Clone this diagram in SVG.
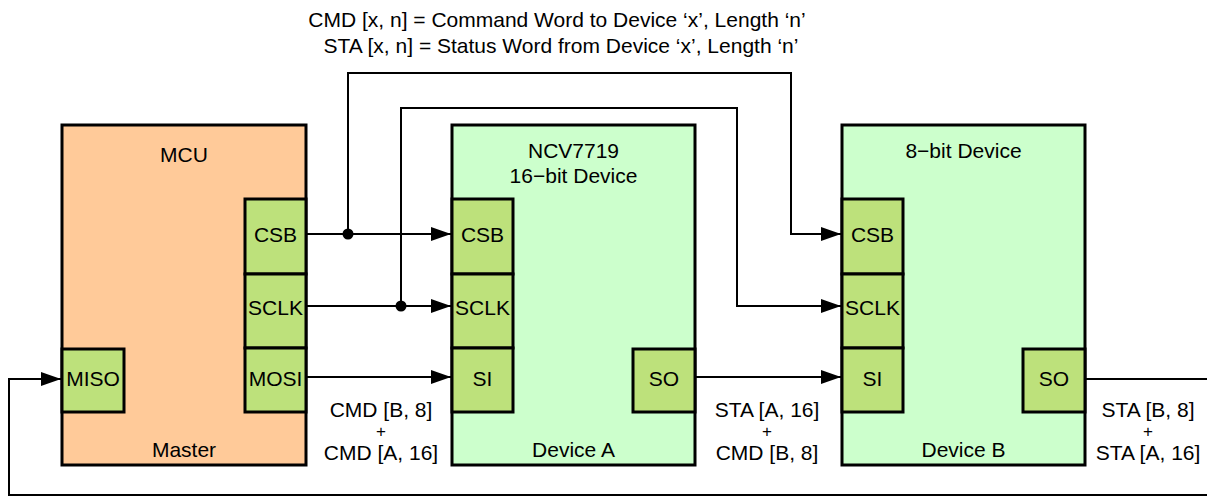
<svg xmlns="http://www.w3.org/2000/svg" width="1207" height="497" viewBox="0 0 1207 497">
<style>
text{font-family:"Liberation Sans",Arial,Helvetica,sans-serif;font-size:21px;fill:#000;text-anchor:middle}
text.plus{font-size:17px}
.box{stroke:#000;stroke-width:3}
.mcu{fill:#ffca99}
.dev{fill:#ccffcc}
.pin{fill:#bde17b;stroke:#000;stroke-width:3}
.w{fill:none;stroke:#000;stroke-width:2}
</style>
<defs>
<marker id="arr" markerUnits="userSpaceOnUse" markerWidth="20" markerHeight="14" refX="20" refY="7" orient="auto" viewBox="0 0 20 14">
<path d="M0,0 L20,7 L0,14 z" fill="#000"/>
</marker>
</defs>
<rect width="1207" height="497" fill="#fff"/>
<g id="legend">
<text x="557" y="27">CMD [x, n] = Command Word to Device ‘x’, Length ‘n’</text>
<text x="561" y="53">STA [x, n] = Status Word from Device ‘x’, Length ‘n’</text>
</g>
<g id="mcu">
<rect class="box mcu" x="62" y="125" width="244" height="340"/>
<text x="184" y="162">MCU</text>
<text x="184" y="457">Master</text>
<rect class="pin" x="245" y="199" width="61" height="75"/>
<text x="275.5" y="242">CSB</text>
<rect class="pin" x="245" y="274" width="61" height="74"/>
<text x="275.5" y="315">SCLK</text>
<rect class="pin" x="245" y="348" width="61" height="64"/>
<text x="275.5" y="386">MOSI</text>
<rect class="pin" x="62" y="349" width="62" height="63"/>
<text x="93" y="386">MISO</text>
</g>
<g id="deviceA">
<rect class="box dev" x="452" y="125" width="243" height="340"/>
<text x="573.5" y="158">NCV7719</text>
<text x="573.5" y="183">16−bit Device</text>
<text x="573.5" y="457">Device A</text>
<rect class="pin" x="452" y="199" width="61" height="75"/>
<text x="482.5" y="242">CSB</text>
<rect class="pin" x="452" y="274" width="61" height="74"/>
<text x="482.5" y="315">SCLK</text>
<rect class="pin" x="452" y="348" width="61" height="64"/>
<text x="482.5" y="386">SI</text>
<rect class="pin" x="633" y="349" width="62" height="63"/>
<text x="664" y="386">SO</text>
</g>
<g id="deviceB">
<rect class="box dev" x="842" y="125" width="243" height="340"/>
<text x="963.5" y="158">8−bit Device</text>
<text x="963.5" y="457">Device B</text>
<rect class="pin" x="842" y="199" width="61" height="75"/>
<text x="872.5" y="242">CSB</text>
<rect class="pin" x="842" y="274" width="61" height="74"/>
<text x="872.5" y="315">SCLK</text>
<rect class="pin" x="842" y="348" width="61" height="64"/>
<text x="872.5" y="386">SI</text>
<rect class="pin" x="1023" y="349" width="62" height="63"/>
<text x="1054" y="386">SO</text>
</g>
<g id="connectors">
<path class="w" d="M306,234 H451" marker-end="url(#arr)"/>
<path class="w" d="M348,234 V73 H791 V234 H841" marker-end="url(#arr)"/>
<circle cx="348" cy="234" r="5.5" fill="#000"/>
<path class="w" d="M306,306 H451" marker-end="url(#arr)"/>
<path class="w" d="M401,306 V108 H737 V306 H841" marker-end="url(#arr)"/>
<circle cx="401" cy="306" r="5.5" fill="#000"/>
<path class="w" d="M306,377 H451" marker-end="url(#arr)"/>
<path class="w" d="M695,377 H841" marker-end="url(#arr)"/>
<path class="w" d="M1085,379 H1207"/>
<path class="w" d="M1207,495 H9 V379 H61" marker-end="url(#arr)"/>
</g>
<g id="labels">
<text x="381" y="417">CMD [B, 8]</text>
<text class="plus" x="381" y="437">+</text>
<text x="381" y="460">CMD [A, 16]</text>
<text x="767" y="417">STA [A, 16]</text>
<text class="plus" x="767" y="437">+</text>
<text x="767" y="460">CMD [B, 8]</text>
<text x="1148" y="417">STA [B, 8]</text>
<text class="plus" x="1148" y="437">+</text>
<text x="1148" y="460">STA [A, 16]</text>
</g>
</svg>
